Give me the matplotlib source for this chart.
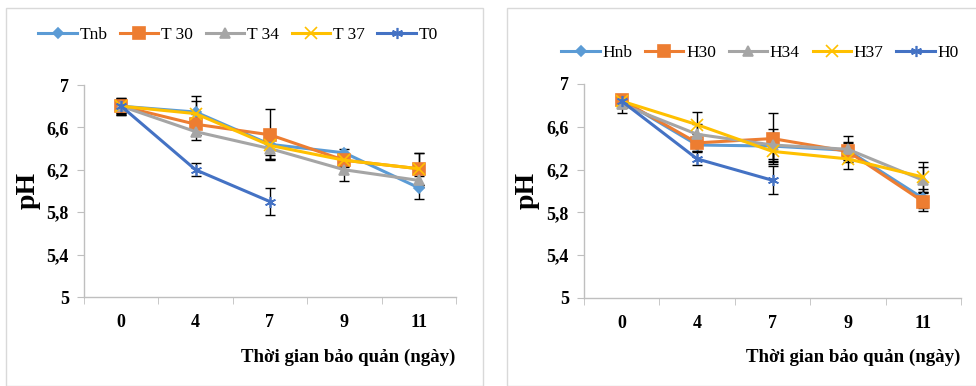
import matplotlib
matplotlib.use("Agg")
import matplotlib.pyplot as plt
from matplotlib.patches import Rectangle

# storage days (category axis)
days = ["0", "4", "7", "9", "11"]
yticks = [5, 5.4, 5.8, 6.2, 6.6, 7]
ytick_labels = ["5", "5,4", "5,8", "6,2", "6,6", "7"]

# left panel: T series
t_names = ["Tnb", "T 30", "T 34", "T 37", "T0"]
t_vals = [
    [6.80, 6.745, 6.44, 6.36, 6.03],
    [6.80, 6.63, 6.53, 6.29, 6.21],
    [6.80, 6.56, 6.40, 6.20, 6.10],
    [6.80, 6.73, 6.43, 6.29, 6.21],
    [6.80, 6.20, 5.90],
]
t_err = [
    [0.07, 0.15, 0.10, 0.04, 0.11],
    [0.06, 0.10, 0.24, 0.06, 0.15],
    [0.08, 0.08, 0.10, 0.11, 0.06],
    [0.06, 0.12, 0.13, 0.05, 0.15],
    [0.08, 0.06, 0.13],
]

# right panel: H series
h_names = ["Hnb", "H30", "H34", "H37", "H0"]
h_vals = [
    [6.85, 6.43, 6.42, 6.38, 5.93],
    [6.85, 6.45, 6.49, 6.37, 5.90],
    [6.81, 6.53, 6.43, 6.39, 6.10],
    [6.84, 6.62, 6.37, 6.30, 6.13],
    [6.84, 6.30, 6.10],
]
h_err = [
    [0.05, 0.06, 0.12, 0.08, 0.09],
    [0.05, 0.08, 0.24, 0.08, 0.09],
    [0.08, 0.10, 0.15, 0.12, 0.12],
    [0.05, 0.12, 0.10, 0.09, 0.14],
    [0.06, 0.06, 0.13],
]

colors = ["#5B9BD5", "#ED7D31", "#A5A5A5", "#FFC000", "#4472C4"]
markers = ["D", "s", "^", "x", (6, 2, 0)]
msizes = [5, 8, 7, 8, 8]

SERIF = ["Liberation Serif", "DejaVu Serif"]
plt.rcParams["font.family"] = SERIF

fig = plt.figure(figsize=(9.76, 3.86), dpi=100)
W, H = 976.0, 386.0

# panel frames
fig.patches.append(Rectangle((6 / W, 0), 477 / W, 1 - 8 / H, transform=fig.transFigure,
                             fill=False, edgecolor="#D9D9D9", lw=1.0))
fig.patches.append(Rectangle((507 / W, 0), 480 / W, 1 - 8 / H, transform=fig.transFigure,
                             fill=False, edgecolor="#D9D9D9", lw=1.0))


def draw_panel(rect, names, vals, errs, legend_y, legend_x, label_right, ph_x):
    ax = fig.add_axes(rect)
    handles = []
    for i in range(len(names)):
        x = list(range(len(vals[i])))
        ax.errorbar(x, vals[i], yerr=errs[i], fmt="none", ecolor="black",
                    elinewidth=1.0, capsize=3.5, capthick=1.0, zorder=2)
    for i in range(len(names)):
        x = list(range(len(vals[i])))
        (ln,) = ax.plot(x, vals[i], color=colors[i], lw=2.2, marker=markers[i],
                        ms=msizes[i], mew=1.2, mec=colors[i], mfc=colors[i],
                        label=names[i], zorder=3 + i)
        handles.append(ln)
    ax.set_xlim(-0.5, 4.5)
    ax.set_ylim(5, 7)
    ax.set_yticks(yticks)
    ax.set_yticklabels(ytick_labels, fontsize=13, fontweight="bold")
    ax.set_xticks(range(len(days)))
    ax.set_xticklabels(days, fontsize=13, fontweight="bold")
    ax.set_xticks([-0.5, 0.5, 1.5, 2.5, 3.5, 4.5], minor=True)
    ax.tick_params(axis="x", which="major", length=0, pad=12)
    ax.tick_params(axis="x", which="minor", length=5, color="#BFBFBF")
    ax.tick_params(axis="y", length=5, color="#BFBFBF", pad=6)
    for s in ["top", "right"]:
        ax.spines[s].set_visible(False)
    for s in ["left", "bottom"]:
        ax.spines[s].set_color("#BFBFBF")
        ax.spines[s].set_linewidth(1.0)
    fig.text(ph_x / W, 1 - 190 / H, "pH", rotation=90, fontsize=20, fontweight="bold",
             ha="center", va="center")
    fig.text(label_right / W, 1 - 357 / H, "Thời gian bảo quản (ngày)", fontsize=13.6,
             fontweight="bold", ha="right", va="center")
    fig.legend(handles=handles, loc="center", bbox_to_anchor=(legend_x / W, 1 - legend_y / H),
               ncol=5, frameon=False, fontsize=12.5, handlelength=2.2,
               handletextpad=0.15, columnspacing=0.75, borderaxespad=0)
    return ax


draw_panel([84 / W, 1 - 297 / H, 372 / W, 212 / H], t_names, t_vals, t_err,
           35, 238, 455, 28)
draw_panel([584 / W, 1 - 298 / H, 377 / W, 214 / H], h_names, h_vals, h_err,
           53, 760, 960, 527)

fig.savefig("out.png", dpi=100)
